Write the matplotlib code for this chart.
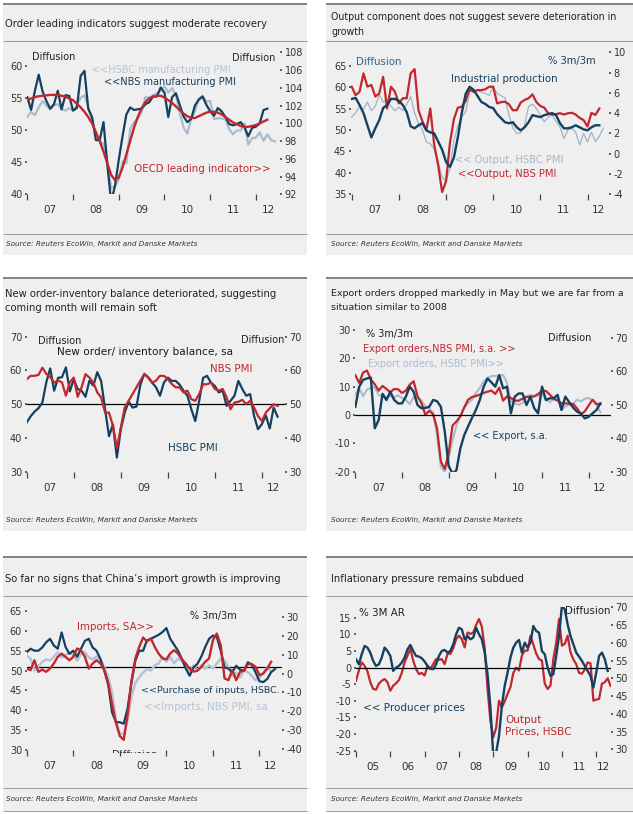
import numpy as np
import matplotlib
matplotlib.use("Agg")
import matplotlib.pyplot as plt
from matplotlib.patches import Rectangle
from matplotlib.lines import Line2D
from matplotlib.transforms import Bbox, TransformedBbox

plt.rcParams['font.family'] = ['DejaVu Sans']
plt.rcParams['axes.unicode_minus'] = False

# ---------------- data (monthly, from Jan 2007 unless noted) ----------------
p1_nbs_pmi = [55.1,53.1,56.1,58.6,56.0,54.5,53.3,54.0,56.1,53.2,55.4,55.3,
              53.0,53.4,58.4,59.2,53.3,52.0,48.4,48.4,51.2,44.6,38.8,41.2,
              45.3,49.0,52.4,53.5,53.1,53.2,53.3,54.0,54.3,55.2,55.2,56.6,
              55.8,52.0,55.1,55.7,53.9,52.1,51.2,51.7,53.8,54.7,55.2,53.9,
              52.9,52.2,53.4,52.9,52.0,50.9,50.7,50.9,51.2,50.4,49.0,50.3,
              50.5,51.0,53.1,53.3]
p1_hsbc_pmi = [52.0,52.8,52.3,53.5,54.5,53.8,53.2,53.8,54.0,53.2,53.0,53.4,
               53.0,53.8,55.0,55.4,53.5,51.5,49.4,48.2,47.8,45.2,40.9,41.2,
               42.2,45.1,44.8,50.1,51.2,51.8,52.8,55.1,55.0,55.4,55.7,56.1,
               56.8,55.8,56.5,55.4,52.7,50.4,49.4,51.7,52.9,54.8,55.3,54.4,
               54.5,51.7,51.8,51.8,51.6,50.1,49.3,49.9,49.9,51.0,47.7,48.7,
               48.8,49.6,48.3,49.3,48.4,48.2]
p1_oecd = [102.6,102.8,102.95,103.05,103.1,103.15,103.2,103.2,103.2,103.1,103.0,102.8,
           102.6,102.2,101.8,101.3,100.7,100.0,99.0,98.0,96.8,95.5,94.2,93.6,
           93.9,95.0,96.5,98.0,99.5,100.7,101.7,102.4,102.8,103.0,103.1,103.1,
           102.9,102.6,102.3,101.9,101.5,101.1,100.8,100.6,100.6,100.8,101.0,101.2,
           101.3,101.3,101.2,101.0,100.7,100.4,100.1,99.9,99.7,99.6,99.6,99.7,
           99.8,100.0,100.2,100.4]

p2_ip = [5.4,5.5,4.8,4.0,2.8,1.6,2.5,3.3,4.5,4.8,5.4,5.4,
         5.2,4.8,4.1,2.7,2.5,2.8,3.0,2.3,2.1,2.0,1.2,0.4,
         -0.8,-1.3,-0.4,1.6,4.0,5.9,6.6,6.3,5.7,5.1,4.9,4.6,
         4.5,3.9,3.5,3.1,3.0,3.1,2.6,2.3,2.6,3.1,3.8,3.7,
         3.6,3.8,3.9,4.0,3.8,3.0,2.5,2.5,2.6,2.8,2.6,2.4,
         2.3,2.6,2.8,2.8]
p2_nbs_output = [60.1,58.1,58.9,63.2,60.1,60.5,57.8,58.5,62.4,55.0,60.1,58.9,
                 56.2,57.4,57.4,63.2,64.2,54.6,52.0,50.0,55.0,46.5,41.8,35.5,
                 38.0,47.0,52.5,55.2,55.4,56.8,59.5,58.9,59.3,59.3,59.5,60.1,
                 60.1,56.2,56.5,56.6,56.0,54.6,54.6,56.4,57.0,57.4,58.3,56.5,
                 55.6,55.2,53.9,53.6,53.7,53.9,53.6,53.9,54.0,53.6,52.8,52.3,
                 50.8,54.0,53.5,55.0]
p2_hsbc_output = [53.0,54.0,55.5,54.8,56.5,54.5,55.5,58.3,56.5,57.0,55.5,54.5,
                  55.3,54.5,56.0,57.8,54.0,51.5,50.0,47.2,46.8,45.5,42.5,39.0,
                  38.0,41.0,47.5,51.0,53.0,54.3,58.9,59.2,59.3,58.8,58.5,58.1,
                  60.1,58.5,58.0,57.5,53.5,50.5,49.2,49.3,51.1,55.5,56.0,55.0,
                  53.5,51.9,53.0,53.5,52.0,50.7,48.0,50.0,50.4,49.5,46.5,49.2,
                  47.2,49.5,47.3,48.5,50.4]

p3_hsbc = [44.6,46.4,47.8,48.8,50.5,56.5,60.6,54.0,57.8,58.0,60.9,53.8,
           57.4,54.5,54.0,52.2,57.0,55.5,59.5,56.8,48.5,40.5,44.0,34.2,
           42.5,47.5,50.8,49.0,49.3,55.8,59.0,57.9,56.4,55.0,52.5,56.4,
           57.9,56.9,56.9,55.8,54.0,52.5,48.5,45.0,51.0,57.8,58.4,56.4,
           55.4,53.5,54.0,49.5,51.0,52.5,56.9,54.5,52.5,53.0,46.5,42.6,
           44.1,46.7,42.8,49.0,46.3]
p3_nbs = [57.4,58.4,58.4,58.7,60.8,59.0,58.0,56.4,57.0,56.5,52.5,56.5,
          57.9,52.2,55.0,58.9,57.9,56.4,53.5,52.0,47.5,47.5,43.6,37.0,
          43.0,49.0,51.0,53.0,55.0,57.0,58.9,58.0,56.4,57.0,58.4,58.4,
          57.4,56.0,55.0,55.0,53.5,54.0,51.5,51.0,53.0,55.9,55.9,56.4,
          54.5,54.0,54.5,52.0,48.5,50.5,50.7,51.3,50.0,51.0,49.0,46.5,
          45.0,47.5,48.8,50.0,49.5]

p4_export = [2.9,10.0,12.4,12.9,13.2,-4.7,-1.8,7.5,5.3,8.2,5.3,4.1,
             4.1,6.5,10.0,8.2,3.5,2.4,2.5,2.9,5.3,4.9,2.9,-5.9,
             -18.0,-20.6,-19.5,-11.8,-7.1,-4.0,-1.0,1.8,5.3,10.0,12.9,11.5,
             10.0,14.1,9.4,10.0,0.6,6.5,7.6,7.6,3.5,6.5,2.4,0.6,
             10.0,5.3,5.9,5.9,7.1,1.8,6.5,4.5,2.6,1.2,0.5,-1.2,
             -0.6,0.6,1.8,4.1]
p4_nbs_orders = [58.8,56.5,59.6,60.2,57.5,56.1,54.2,55.6,54.7,53.7,54.7,54.6,
                 53.5,54.2,56.0,57.0,52.5,50.5,47.0,48.2,47.2,43.0,33.0,30.8,
                 35.5,43.8,45.0,46.5,49.2,51.5,52.3,52.6,53.0,53.5,53.9,54.2,
                 53.2,55.1,51.2,52.5,52.0,51.2,51.2,51.8,52.4,52.3,52.5,53.2,
                 54.2,54.1,53.0,51.8,51.2,50.4,50.4,50.3,50.2,48.9,47.2,48.0,
                 49.8,51.5,50.2,50.2]
p4_hsbc_orders = [53.0,55.0,52.5,54.5,55.0,55.2,52.9,52.5,52.3,52.6,52.2,52.8,
                  52.0,51.5,50.2,52.2,52.2,51.2,49.5,49.0,47.5,41.0,31.5,29.9,
                  34.0,39.3,43.8,46.5,49.0,50.5,51.5,53.5,55.0,57.0,58.0,58.5,
                  58.6,58.6,58.9,56.5,51.0,50.3,50.0,50.5,52.2,53.0,52.5,52.7,
                  53.2,51.5,50.8,51.5,52.0,48.3,49.5,50.0,50.2,51.5,51.0,51.8,
                  52.0,51.2,49.9,47.8]

p5_purchase = [54.6,55.5,55.0,55.0,55.8,57.1,58.0,56.3,55.5,59.6,56.0,54.2,
               55.0,53.5,55.5,57.5,58.0,55.8,55.0,52.9,50.0,46.5,39.5,37.0,
               37.0,36.6,40.5,47.0,52.5,55.0,55.0,57.6,58.0,58.5,59.0,59.7,
               60.7,58.0,56.5,55.0,52.9,50.5,48.7,50.8,51.7,53.5,55.9,58.0,
               58.8,58.5,55.0,50.8,50.5,49.6,51.2,50.2,50.0,52.1,51.5,49.5,
               47.3,47.1,47.9,49.6,50.4]
p5_imports = [2.6,1.8,7.0,0.9,2.1,0.9,2.6,5.3,8.8,10.5,8.8,7.0,
              8.8,13.2,12.3,8.8,2.6,5.3,7.0,5.3,1.8,-5.0,-16.0,-26.0,
              -33.0,-35.0,-22.0,-4.0,7.9,14.1,19.0,17.0,18.5,14.1,10.5,8.0,
              7.5,10.6,12.3,10.5,7.5,5.3,2.5,1.0,1.5,3.5,6.2,7.9,
              17.6,21.1,15.0,-2.6,-3.5,1.8,-3.5,0.9,1.5,5.0,5.0,3.5,
              -0.9,0.0,2.6,6.2]
p5_nbs_imports = [53.8,53.0,50.0,51.0,52.1,52.8,52.5,53.5,54.6,53.3,53.8,54.6,
                  54.0,52.5,54.2,54.6,53.3,52.8,53.5,52.8,50.8,48.3,44.5,37.4,
                  34.1,34.0,37.5,43.5,46.9,48.3,49.5,50.4,50.0,51.3,51.8,53.4,
                  52.2,53.4,51.8,53.0,52.5,51.5,49.6,51.3,50.0,51.3,50.5,51.3,
                  50.5,51.8,53.0,52.5,50.8,48.7,49.5,48.3,50.0,49.6,48.7,47.5,
                  48.3,49.6,50.8,49.8]

# panel 6: monthly from Jan 2005
p6_ppi = [2.5,1.0,4.0,6.5,6.0,4.5,2.0,0.5,1.0,3.0,6.0,5.0,
          3.5,-1.0,0.0,0.5,1.5,3.0,5.5,6.8,5.0,3.5,3.3,2.8,
          1.8,0.5,-0.3,-0.5,1.0,3.5,5.0,5.3,4.5,5.0,7.0,10.0,
          12.0,11.5,8.5,9.5,8.5,9.0,12.0,10.0,8.5,4.5,-2.0,-12.0,
          -26.6,-25.6,-20.6,-11.5,-5.5,-1.5,3.0,6.0,7.5,8.3,4.5,7.5,
          6.0,7.5,12.5,11.0,10.5,5.0,4.0,0.0,-2.5,-2.0,3.5,9.5,
          18.6,17.5,13.0,9.5,7.0,4.5,3.3,2.0,0.5,-1.0,-2.5,-6.0,
          -1.5,3.5,4.5,2.5,-1.0]
p6_output_prices = [49.3,52.2,54.5,53.5,52.0,48.9,47.0,46.8,48.5,49.3,49.8,48.9,
                    46.5,47.9,48.6,49.5,51.5,54.5,56.4,58.3,55.0,52.6,51.2,51.5,
                    50.8,53.5,52.6,54.0,55.4,55.2,55.4,54.0,56.9,56.9,58.5,61.0,
                    62.0,61.0,58.7,62.9,62.5,62.9,65.0,66.7,64.5,58.5,47.0,38.0,
                    33.4,36.0,43.7,41.8,43.5,45.6,47.5,51.5,53.0,52.2,56.4,57.8,
                    57.8,62.0,59.5,57.0,55.4,55.0,48.5,47.0,48.0,55.4,60.0,66.7,
                    59.2,59.7,62.0,57.3,55.3,54.0,51.5,51.3,52.5,54.5,54.2,43.7,
                    44.0,44.2,48.5,48.9,50.0,47.9]

# ---------------- styling / layout ----------------
W, H = 633, 814
fig = plt.figure(figsize=(W / 100, H / 100), dpi=100)
fig.patch.set_facecolor('white')

BG = '#efefef'
NAVY = '#15405f'
RED = '#c1272d'
LIGHT = '#a9bccf'
TXT = '#222222'
TICKC = '#333333'


def fx(x):
    return x / W


def fy(y):
    return 1 - y / H


def rect(x0, y0, x1, y1, color):
    fig.add_artist(Rectangle((fx(x0), fy(y1)), (x1 - x0) / W, (y1 - y0) / H,
                             transform=fig.transFigure, facecolor=color,
                             edgecolor='none', zorder=-5))


def hline(x0, x1, y, color, lw):
    fig.add_artist(Line2D([fx(x0), fx(x1)], [fy(y), fy(y)], transform=fig.transFigure,
                          color=color, lw=lw, zorder=-4, solid_capstyle='butt'))


def label(x, y, s, color=TXT, size=7.0, **kw):
    return fig.text(fx(x), fy(y), s, color=color, fontsize=size, ha='left', va='center', **kw)


def lim(ref, top, bot):
    (v1, p1), (v2, p2) = ref
    s = (v2 - v1) / (p2 - p1)
    return v1 + (bot - p1) * s, v1 + (top - p1) * s


def months(start, n):
    return start + np.arange(n) / 12.0


def make_panel(L, R, T, B, start, tick0, ppm, lref, rref, lticks, rticks, year_off=11.5):
    ax = fig.add_axes([fx(L), fy(B), (R - L) / W, (B - T) / H])
    ax2 = ax.twinx()
    x0 = start + (L - tick0) / ppm / 12
    x1 = start + (R - tick0) / ppm / 12
    ax.set_xlim(x0, x1)
    ax.set_ylim(*lim(lref, T, B))
    ax2.set_ylim(*lim(rref, T, B))
    for a in (ax, ax2):
        a.set_facecolor('none')
        for s in a.spines.values():
            s.set_visible(False)
    ax.set_yticks(lticks)
    ax2.set_yticks(rticks)
    ax.tick_params(axis='y', length=1.5, width=1.3, color='#555555', pad=1.8,
                   labelsize=7, labelcolor=TICKC)
    ax2.tick_params(axis='y', length=1.5, width=1.3, color='#555555', pad=1.8,
                    labelsize=7, labelcolor=TICKC)
    years = [y for y in range(start, 2013) if y <= x1]
    ax.set_xticks(years)
    ax.tick_params(axis='x', length=4, width=0.9, color='#444444', direction='out',
                   labelbottom=False)
    for y in years:
        mid = y + 0.5 if y < 2012 else (2012 + x1) / 2
        ax.annotate(f"{y % 100:02d}", xy=(mid, 0), xycoords=('data', 'axes fraction'),
                    xytext=(0, -year_off), textcoords='offset points',
                    ha='center', va='center', fontsize=7.5, color=TICKC)
    return ax, ax2


# panel backgrounds and rules
for (x0, x1) in [(3, 307), (326, 633)]:
    rect(x0, 3, x1, 255, BG)
    rect(x0, 277, x1, 531, BG)
    rect(x0, 556, x1, 811, BG)
    hline(x0, x1, 3.8, '#7a7a7a', 1.3)
    hline(x0, x1, 277.8, '#7a7a7a', 1.3)
    hline(x0, x1, 556.5, '#7a7a7a', 1.3)
    hline(x0, x1, 41.3, '#9a9a9a', 0.7)
    hline(x0, x1, 233.5, '#9a9a9a', 0.7)
    hline(x0, x1, 595.5, '#9a9a9a', 0.7)
    hline(x0, x1, 788.2, '#9a9a9a', 0.7)
    hline(x0, x1, 810.5, '#9a9a9a', 0.7)

# titles
label(5, 24, "Order leading indicators suggest moderate recovery", size=7.2)
label(331, 17, "Output component does not suggest severe deterioration in", size=6.85)
label(331, 32, "growth", size=6.85)
label(5, 294, "New order-inventory balance deteriorated, suggesting", size=7.2)
label(5, 307.7, "coming month will remain soft", size=7.2)
label(331, 294, "Export orders dropped markedly in May but we are far from a", size=6.8)
label(331, 308, "situation similar to 2008", size=6.8)
label(5, 578.5, "So far no signs that China\u2019s import growth is improving", size=7.2)
label(331, 578.5, "Inflationary pressure remains subdued", size=7.2)

src = "Source: Reuters EcoWin, Markit and Danske Markets"
for (x, y) in [(6, 244), (331, 244), (6, 520), (331, 520), (6, 798.5), (331, 799)]:
    label(x, y, src, size=5.2, style='italic', color='#333333')

# ---------- panel 1 ----------
ax, ax2 = make_panel(27.3, 280, 52.3, 194.3, 2007, 27.3, 3.81,
                     ((60, 65.7), (40, 194.0)), ((108, 52.3), (92, 194.3)),
                     [40, 45, 50, 55, 60], list(range(92, 109, 2)))
ax.plot(months(2007, len(p1_hsbc_pmi)), p1_hsbc_pmi, color=LIGHT, lw=1.6)
ax.plot(months(2007, len(p1_nbs_pmi)), p1_nbs_pmi, color=NAVY, lw=1.6)
ax2.plot(months(2007, len(p1_oecd)), p1_oecd, color=RED, lw=1.7)
label(32, 57.5, "Diffusion")
label(232, 57.7, "Diffusion")
label(92, 70, "<<HSBC manufacturing PMI", color='#b6c4d3')
label(104, 82, "<<NBS manufacturing PMI", color=NAVY)
label(134, 169, "OECD leading indicator>>", color=RED, size=7.4)

# ---------- panel 2 ----------
ax, ax2 = make_panel(351, 609, 52.3, 194.2, 2007, 351.7, 3.93,
                     ((65, 65.7), (35, 194.2)), ((10, 52.3), (-4, 194.2)),
                     [35, 40, 45, 50, 55, 60, 65], list(range(-4, 11, 2)))
ax.plot(months(2007, len(p2_hsbc_output)), p2_hsbc_output, color='#9fb4c8', lw=0.9)
ax.plot(months(2007, len(p2_nbs_output)), p2_nbs_output, color=RED, lw=1.6)
ax2.plot(months(2007, len(p2_ip)), p2_ip, color=NAVY, lw=1.7)
label(356, 62, "Diffusion", color='#2b6593', size=7.4)
label(548, 61, "% 3m/3m", color='#1c3d5a', size=7.2)
label(451, 79, "Industrial production", color=NAVY, size=7.4)
label(455, 160, "<< Output, HSBC PMI", color='#a6b8ca', size=7.2)
label(458, 174, "<<Output, NBS PMI", color=RED, size=7.2)

# ---------- panel 3 ----------
ax, ax2 = make_panel(26.7, 285, 336.7, 471.7, 2007, 26.7, 3.92,
                     ((70, 336.7), (30, 471.7)), ((70, 336.7), (30, 471.7)),
                     [30, 40, 50, 60, 70], [30, 40, 50, 60, 70])
ax.axhline(50, color='black', lw=0.9)
ax.plot(months(2007, len(p3_hsbc)), p3_hsbc, color=NAVY, lw=1.6)
ax.plot(months(2007, len(p3_nbs)), p3_nbs, color=RED, lw=1.6)
label(38, 340.7, "Diffusion")
label(241, 340, "Diffusion")
label(57, 351.7, "New order/ inventory balance, sa", size=7.6, color='#1a1a1a')
label(210, 368.7, "NBS PMI", color=RED, size=7.4)
label(168, 447.7, "HSBC PMI", color=NAVY, size=7.4)

# ---------- panel 4 ----------
ax, ax2 = make_panel(355.3, 611, 330, 471.7, 2007, 355.3, 3.89,
                     ((30, 330), (-20, 471.7)), ((70, 337.7), (30, 471.7)),
                     [-20, -10, 0, 10, 20, 30], [30, 40, 50, 60, 70])
ax.set_zorder(ax2.get_zorder() + 1)
ax.axhline(0, color='black', lw=0.9)
ax2.plot(months(2007, len(p4_hsbc_orders)), p4_hsbc_orders, color=LIGHT, lw=1.5)
ax2.plot(months(2007, len(p4_nbs_orders)), p4_nbs_orders, color=RED, lw=1.6)
ax.plot(months(2007, len(p4_export)), p4_export, color=NAVY, lw=1.7)
label(366, 334, "% 3m/3m")
label(548, 337.7, "Diffusion")
label(363, 349.3, "Export orders,NBS PMI, s.a. >>", color=RED)
label(368, 363.7, "Export orders, HSBC PMI>>", color='#a9bccf')
label(473, 435.7, "<< Export, s.a.", color=NAVY)

# ---------- panel 5 ----------
ax, ax2 = make_panel(26.7, 282, 611, 750, 2007, 26.7, 3.88,
                     ((65, 611), (30, 750)), ((30, 616.7), (-40, 749.3)),
                     [30, 35, 40, 45, 50, 55, 60, 65], list(range(-40, 31, 10)))
ax.axhline(50.8, color='black', lw=0.9)
ax.plot(months(2007, len(p5_nbs_imports)), p5_nbs_imports, color='#b4c4d4', lw=1.8)
ax.plot(months(2007, len(p5_purchase)), p5_purchase, color=NAVY, lw=1.6)
ax2.plot(months(2007, len(p5_imports)), p5_imports, color=RED, lw=1.7)
label(190, 616, "% 3m/3m")
label(77, 626.7, "Imports, SA>>", color=RED, size=7.4)
label(141, 690.7, "<<Purchase of inputs, HSBC.", color=NAVY, size=6.8)
label(144, 707.3, "<<Imports, NBS PMI, sa", color='#b4c4d4', size=7.4)
t = label(112, 755, "Diffusion", color='#333333', size=7.4)
t.set_clip_box(TransformedBbox(Bbox([[fx(100), fy(752.5)], [fx(170), fy(740)]]),
                               fig.transFigure))
t.set_clip_on(True)

# ---------- panel 6 ----------
ax, ax2 = make_panel(356, 610.6, 607.3, 750.7, 2005, 356, 2.86,
                     ((15, 617.7), (-25, 750.7)), ((70, 607.3), (30, 749.3)),
                     list(range(-25, 16, 5)), list(range(30, 71, 5)))
ax.set_zorder(ax2.get_zorder() + 1)
ax.axhline(0, color='black', lw=0.9)
ax2.plot(months(2005, len(p6_output_prices)), p6_output_prices, color=RED, lw=1.6)
ax.plot(months(2005, len(p6_ppi)), p6_ppi, color=NAVY, lw=1.7)
label(359, 612.7, "% 3M AR", size=7.4)
label(565, 611, "Diffusion", size=7.4)
label(363, 708.3, "<< Producer prices", color=NAVY, size=7.5)
label(505, 720, "Output", color=RED, size=7.5)
label(505, 731.7, "Prices, HSBC", color=RED, size=7.5)

fig.savefig("out.png", dpi=100, facecolor='white')
